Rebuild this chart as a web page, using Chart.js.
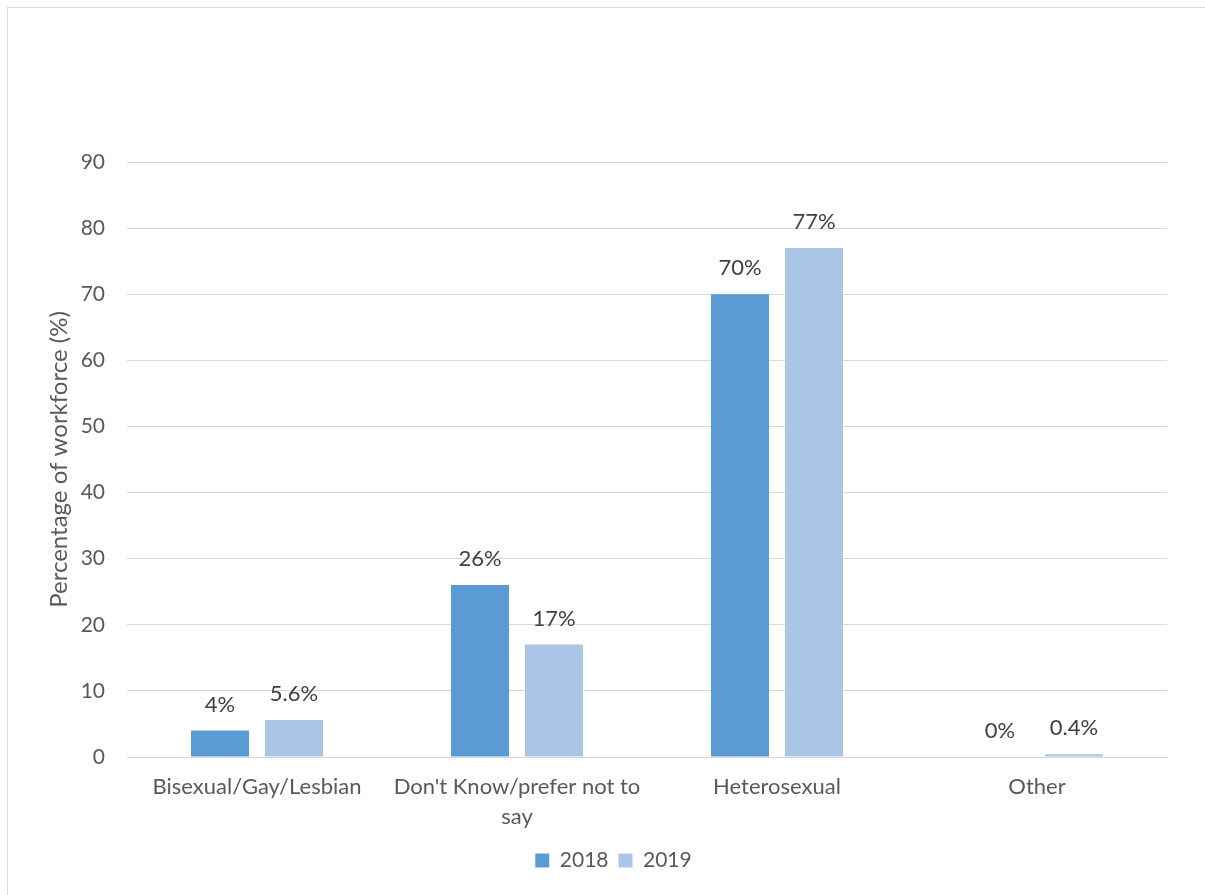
<!DOCTYPE html>
<html>
<head>
<meta charset="utf-8">
<script src="https://cdn.jsdelivr.net/npm/chart.js@4"></script>
<style>
  html, body { margin: 0; padding: 0; background: #fff; overflow: hidden; }
  #wrap { position: absolute; left: 0; top: 0; width: 1205px; height: 895px; }
  #frame { position: absolute; left: 7px; top: 7px; width: 1220px; height: 910px; border: 1.5px solid #D9D9D9; box-sizing: border-box; }
  canvas { position: absolute; left: 0; top: 0; }
</style>
</head>
<body>
<div id="wrap">
  <div id="frame"></div>
  <canvas id="c" width="1205" height="895"></canvas>
</div>
<script>
const categories = [["Bisexual/Gay/Lesbian"], ["Don't Know/prefer not to", "say"], ["Heterosexual"], ["Other"]];
const seriesNames = ["2018", "2019"];
const values2018 = [4, 26, 70, 0];
const values2019 = [5.6, 17, 77, 0.4];
const yTicks = [0, 10, 20, 30, 40, 50, 60, 70, 80, 90];
const yAxisTitle = "Percentage of workforce (%)";

const FONT = "Lato, 'Open Sans', sans-serif";

const dataLabels = {
  id: 'dataLabels',
  afterDatasetsDraw(chart) {
    const ctx = chart.ctx;
    ctx.save();
    ctx.font = "22px " + FONT;
    ctx.fillStyle = '#404040';
    ctx.textAlign = 'center';
    ctx.textBaseline = 'middle';
    chart.data.datasets.forEach((ds, di) => {
      const meta = chart.getDatasetMeta(di);
      meta.data.forEach((bar, i) => {
        ctx.fillText(ds.data[i] + '%', bar.x, bar.y - 26);
      });
    });
    ctx.restore();
  }
};

new Chart(document.getElementById('c'), {
  type: 'bar',
  data: {
    labels: categories,
    datasets: [
      { label: seriesNames[0], data: values2018, backgroundColor: '#5B9BD5', categoryPercentage: 0.569, barPercentage: 0.784 },
      { label: seriesNames[1], data: values2019, backgroundColor: '#ABC5E6', categoryPercentage: 0.569, barPercentage: 0.784 }
    ]
  },
  options: {
    responsive: false,
    animation: false,
    devicePixelRatio: 1,
    layout: { padding: { left: 60, top: 162, right: 38, bottom: 14 } },
    plugins: {
      legend: {
        position: 'bottom',
        labels: {
          boxWidth: 14, boxHeight: 14, padding: 10,
          color: '#595959',
          font: { family: FONT, size: 21 }
        }
      },
      tooltip: { enabled: false }
    },
    scales: {
      x: {
        grid: { display: false, drawTicks: false },
        border: { display: true, color: '#D9D9D9', width: 1 },
        ticks: {
          color: '#595959', padding: 15, maxRotation: 0, autoSkip: false,
          font: { family: FONT, size: 22, lineHeight: '30px' }
        },
        afterFit(scale) { scale.height = 83; }
      },
      y: {
        min: 0, max: 90,
        afterBuildTicks(scale) { scale.ticks = yTicks.map(v => ({ value: v })); },
        grid: { color: '#D9D9D9', lineWidth: 1, drawTicks: false },
        border: { display: false },
        ticks: {
          color: '#595959', padding: 22,
          font: { family: FONT, size: 21 }
        },
        title: {
          display: true, text: yAxisTitle, color: '#595959',
          font: { family: FONT, size: 24 },
          padding: { top: -15, bottom: 0 }
        },
        afterFit(scale) { scale.width = 67; }
      }
    }
  },
  plugins: [dataLabels]
});
</script>
</body>
</html>
